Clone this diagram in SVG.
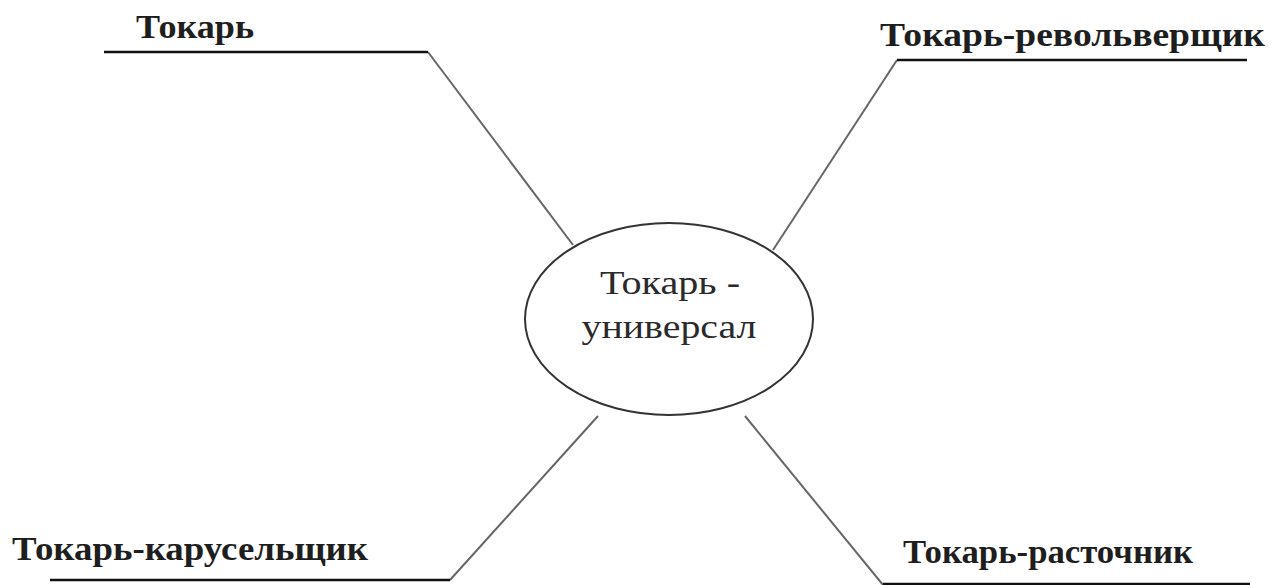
<svg xmlns="http://www.w3.org/2000/svg" width="1288" height="585" viewBox="0 0 1288 585">
<style>
.lbl{font-family:"Liberation Serif","DejaVu Serif",serif;font-weight:bold;font-size:33px;fill:#1e1e1e}
.ctr{font-family:"Liberation Serif","DejaVu Serif",serif;font-size:34px;fill:#2a2a2a;text-anchor:middle}
.ul{stroke:#111;stroke-width:2.5;fill:none}
.con{stroke:#666;stroke-width:2;fill:none}
</style>
<rect width="1288" height="585" fill="#ffffff"/>
<g id="connectors">
<line class="con" x1="428" y1="52" x2="573" y2="245"/>
<line class="con" x1="897" y1="60" x2="773" y2="250"/>
<line class="con" x1="450" y1="580" x2="598" y2="416"/>
<line class="con" x1="745" y1="416" x2="883" y2="585"/>
</g>
<g id="center">
<ellipse cx="669" cy="319" rx="144" ry="96" fill="#fff" stroke="#333" stroke-width="2"/>
<text class="ctr" x="670" y="294" textLength="140" lengthAdjust="spacingAndGlyphs">Токарь -</text>
<text class="ctr" x="669" y="338" textLength="175" lengthAdjust="spacingAndGlyphs">универсал</text>
</g>
<g id="tokar">
<text class="lbl" x="136" y="38" textLength="118" lengthAdjust="spacingAndGlyphs">Токарь</text>
<line class="ul" x1="104" y1="52" x2="428" y2="52"/>
</g>
<g id="revolver">
<text class="lbl" x="880" y="46" textLength="385" lengthAdjust="spacingAndGlyphs">Токарь-револьверщик</text>
<line class="ul" x1="897" y1="60" x2="1247" y2="60"/>
</g>
<g id="karusel">
<text class="lbl" x="12" y="560" textLength="356" lengthAdjust="spacingAndGlyphs">Токарь-карусельщик</text>
<line class="ul" x1="50" y1="580" x2="450" y2="580"/>
</g>
<g id="rastoch">
<text class="lbl" x="903" y="563" textLength="290" lengthAdjust="spacingAndGlyphs">Токарь-расточник</text>
<line class="ul" x1="883" y1="584" x2="1250" y2="584"/>
</g>
</svg>
